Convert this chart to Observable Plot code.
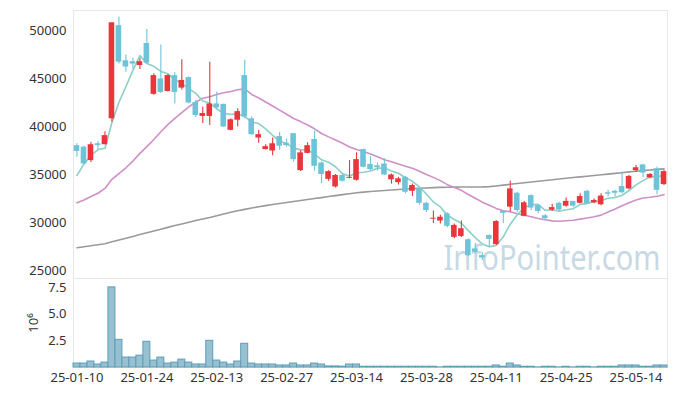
<!DOCTYPE html>
<html><head><meta charset="utf-8">
<script src="https://cdn.jsdelivr.net/npm/d3@7"></script>
<script src="https://cdn.jsdelivr.net/npm/@observablehq/plot@0.6"></script>
<style>
body{margin:0;background:#fff;}
#chart{width:677px;height:396px;overflow:hidden;position:relative;}
#chart svg{display:block;}
#chart svg.vol{margin-top:-12px;position:relative;}
</style>
</head><body><div id="chart"></div>
<script>
const dates = [
"2025-01-10","2025-01-13","2025-01-14","2025-01-15","2025-01-16","2025-01-17","2025-01-20","2025-01-21","2025-01-22","2025-01-23","2025-01-24","2025-01-31",
"2025-02-03","2025-02-04","2025-02-05","2025-02-06","2025-02-07","2025-02-10","2025-02-11","2025-02-12","2025-02-13","2025-02-14","2025-02-17","2025-02-18","2025-02-19","2025-02-20","2025-02-21","2025-02-24","2025-02-25","2025-02-26","2025-02-27","2025-02-28",
"2025-03-04","2025-03-05","2025-03-06","2025-03-07","2025-03-10","2025-03-11","2025-03-12","2025-03-13","2025-03-14","2025-03-17","2025-03-18","2025-03-19","2025-03-20","2025-03-21","2025-03-24","2025-03-25","2025-03-26","2025-03-27","2025-03-28","2025-03-31",
"2025-04-01","2025-04-02","2025-04-03","2025-04-04","2025-04-07","2025-04-08","2025-04-09","2025-04-10","2025-04-11","2025-04-14","2025-04-15","2025-04-16","2025-04-17","2025-04-18","2025-04-21","2025-04-22","2025-04-23","2025-04-24","2025-04-25","2025-04-28","2025-04-29","2025-04-30",
"2025-05-02","2025-05-07","2025-05-08","2025-05-09","2025-05-12","2025-05-13","2025-05-14","2025-05-15","2025-05-16","2025-05-19","2025-05-20"];

const opens = [38000,37850,36450,38200,38100,40800,50500,46850,46750,46350,48650,43350,44950,43650,45300,44000,45100,42500,41050,41050,
42350,42300,39600,40650,45300,40800,38800,37600,37450,38950,38250,39250,35400,37200,38650,36200,34500,33700,34900,34600,
34400,37600,36050,35900,36100,34450,34150,34700,33250,33500,32000,30350,30150,30900,28450,28550,28200,27250,26550,28650,
27700,31150,31600,33050,30650,32800,31750,30700,31300,32000,31700,32200,32000,33250,32050,31850,33100,33250,33750,33500,
35400,36000,34650,35600,33950];
const highs = [38200,37950,38350,38450,39450,50800,51400,47450,47100,47050,50100,45500,48500,45400,45600,46950,45150,42700,42000,46700,
43600,42350,40800,41850,46900,41000,39600,38100,38800,39400,38700,39250,37500,38300,39500,36300,35400,35000,35050,36450,
37260,37650,36850,36200,36650,35050,34700,34800,34000,33600,32100,31200,30750,31000,29850,30150,28300,27800,26850,28700,
30200,31250,34300,33150,32200,32900,31850,30800,31900,32100,32550,32200,33000,33350,32450,33000,33350,33350,35250,34900,
35950,36050,35100,35750,35450];
const lows = [36800,36000,36250,37600,38100,40450,46500,45650,46000,45950,46450,43250,43450,43600,42350,43800,42350,40950,40300,40100,
41750,39900,39550,39950,40800,39050,38250,37550,36950,37500,37850,36300,35300,37150,35350,34050,34300,33600,34200,34550,
34300,35700,35400,35350,34900,34000,33900,33000,32700,31800,31050,29900,29850,29450,28300,28450,26450,26750,26050,27450,
27600,29900,31100,31050,30600,31250,30900,30150,31150,31150,31600,31600,31950,31900,31950,31750,32650,32650,33000,33400,
35200,34650,34550,32900,33850];
const closes = [37400,36100,38100,38000,39050,50800,46700,46200,46500,46750,46600,45300,43550,45300,43550,44800,42450,41150,41350,42350,
41950,39950,40700,41550,41000,39150,39150,37900,38200,37950,38000,36550,37250,38000,35850,35000,35300,34900,34300,34700,
36550,35750,35500,35700,34950,34950,34550,33150,33850,32000,31250,30450,30550,29600,29700,29350,26550,26900,26300,28250,
30100,30950,33500,31250,32050,31500,31150,30400,31550,31300,32200,31700,32700,31950,32300,32750,32950,33050,33100,34800,
35700,35150,35000,33350,35300];
const volumes = [370000,370000,560000,280000,460000,7500000,2590000,930000,930000,1110000,2410000,650000,930000,370000,460000,740000,460000,280000,280000,2500000,
650000,460000,280000,560000,2220000,370000,280000,280000,280000,190000,190000,370000,190000,190000,370000,280000,100000,100000,80000,280000,
280000,70000,70000,70000,70000,70000,70000,70000,70000,70000,70000,70000,10000,70000,70000,70000,70000,70000,70000,70000,
190000,70000,370000,190000,70000,70000,10000,70000,70000,10000,70000,10000,70000,70000,10000,70000,70000,70000,190000,190000,
190000,70000,70000,190000,190000];
const ma5 = [34900,36100,36980,37600,37730,40410,42530,44150,45850,47390,46550,46270,45740,45500,44860,44500,43930,43450,42660,42420,
41850,41350,41260,41300,41030,40470,40310,39750,39080,38470,38240,37720,37590,37550,37130,36530,36280,35810,35070,34840,
35150,35240,35360,35640,35690,35370,35130,34660,34290,33700,32960,32140,31620,30770,30310,29930,29150,28420,27760,27470,
27620,28500,29820,30810,31570,31850,31890,31270,31330,31180,31320,31430,31890,31970,32170,32280,32530,32600,32830,33330,
33920,34360,34750,34800,34900];
const ma20 = [32050,32350,32700,33050,33550,34500,35100,35700,36400,37200,37900,38650,39450,40200,40850,41450,42050,42550,42950,43100,
43330,43520,43650,43830,43930,43340,42970,42550,42140,41700,41270,40830,40510,40150,39760,39270,38920,38600,38250,37870,
37600,37390,37130,36840,36530,36320,36090,35860,35640,35340,35000,34700,34360,33940,33640,33350,32920,32520,32120,31790,
31470,31230,31130,30910,30760,30590,30420,30280,30170,30130,30180,30240,30350,30470,30600,30770,31090,31400,31740,32060,
32340,32550,32630,32730,32900];
const ma60 = [27365,27470,27570,27680,27780,27990,28180,28365,28550,28740,28930,29115,29300,29490,29680,29850,30030,30200,30365,30520,
30700,30885,31060,31220,31365,31510,31635,31760,31875,31980,32085,32190,32290,32400,32500,32595,32700,32800,32905,33000,
33100,33165,33230,33280,33330,33385,33440,33490,33530,33570,33600,33635,33655,33675,33690,33700,33700,33700,33710,33740,
33810,33895,33980,34060,34135,34220,34300,34375,34450,34530,34605,34680,34750,34825,34895,34970,35040,35115,35190,35270,
35340,35405,35470,35530,35590];

const priceTicks = [25000,30000,35000,40000,45000,50000];
const volumeTicks = [2500000,5000000,7500000];
const xTicks = dates.filter((d,i) => i % 10 === 0);
const watermark = "InfoPointer.com";

const rows = dates.map((date,i) => ({date, open:opens[i], high:highs[i], low:lows[i], close:closes[i],
  volume:volumes[i], ma5:ma5[i], ma20:ma20[i], ma60:ma60[i]}));

const UP = "#ea353c", DOWN = "#6ec3d9";
const candleColor = d => d.close >= d.open ? UP : DOWN;
const baseStyle = {fontFamily:"'Noto Sans', sans-serif", fontSize:"13px", color:"#333"};

const priceCross = xTicks.flatMap(x => priceTicks.map(y => ({x, y})));
const volCross = xTicks.flatMap(x => volumeTicks.map(y => ({x, y})));

const priceChart = Plot.plot({
  width:677, height:290, marginTop:10, marginBottom:12, marginLeft:73, marginRight:10,
  style:{...baseStyle, background:"#fff"},
  color:{type:"identity"},
  x:{type:"band", domain:dates, paddingInner:0.2, paddingOuter:0.1, axis:null},
  y:{domain:[24167,52083], ticks:priceTicks, tickSize:0, tickPadding:7, tickFormat:d => String(d), label:null},
  marks:[
    Plot.frame({stroke:"#e6e6e6"}),
    Plot.dot(priceCross, {x:"x", y:"y", symbol:"plus", r:3, fill:"#e6e6e6", stroke:null}),
    Plot.text([watermark], {text:d => d, frameAnchor:"bottom-right", textAnchor:"end", lineAnchor:"middle",
      dx:-7, dy:-20, fontSize:35, fill:"#c6d9e4", fontFamily:"'Noto Sans', sans-serif"}),
    Plot.line(rows, {x:"date", y:"ma60", stroke:"#9a9a9a", strokeWidth:1.6}),
    Plot.line(rows, {x:"date", y:"ma20", stroke:"#cf8fc9", strokeWidth:1.6}),
    Plot.line(rows, {x:"date", y:"ma5", stroke:"#8dd0c5", strokeWidth:1.6}),
    Plot.ruleX(rows, {x:"date", y1:"low", y2:"high", stroke:candleColor, strokeWidth:1.1}),
    Plot.barY(rows, {x:"date", y1:"open", y2:"close", fill:candleColor})
  ]
});

const volumeChart = Plot.plot({
  width:677, height:118, marginTop:0, marginBottom:29, marginLeft:73, marginRight:10,
  className:"vol",
  style:{...baseStyle, background:"transparent"},
  x:{type:"band", domain:dates, padding:0, ticks:xTicks, tickFormat:d => d.slice(2), tickSize:0, tickPadding:5, label:null},
  y:{domain:[0,8330000], ticks:volumeTicks, tickSize:0, tickPadding:7, tickFormat:d => (d/1e6).toFixed(1),
     label:"10⁶", labelAnchor:"center", labelArrow:"none", labelOffset:45},
  marks:[
    Plot.frame({stroke:"#e6e6e6"}),
    Plot.dot(volCross, {x:"x", y:"y", symbol:"plus", r:3, fill:"#e6e6e6", stroke:null}),
    Plot.barY(rows, {x:"date", y:"volume", fill:"#97c0d1", stroke:"#5e9db8", strokeWidth:1})
  ]
});
volumeChart.classList.add("vol");

const chartDiv = document.getElementById("chart");
chartDiv.appendChild(priceChart);
chartDiv.appendChild(volumeChart);

d3.select(priceChart).selectAll("text").filter(function(){ return this.textContent === watermark; })
  .attr("textLength", 217).attr("lengthAdjust", "spacingAndGlyphs");
</script>
</body></html>
